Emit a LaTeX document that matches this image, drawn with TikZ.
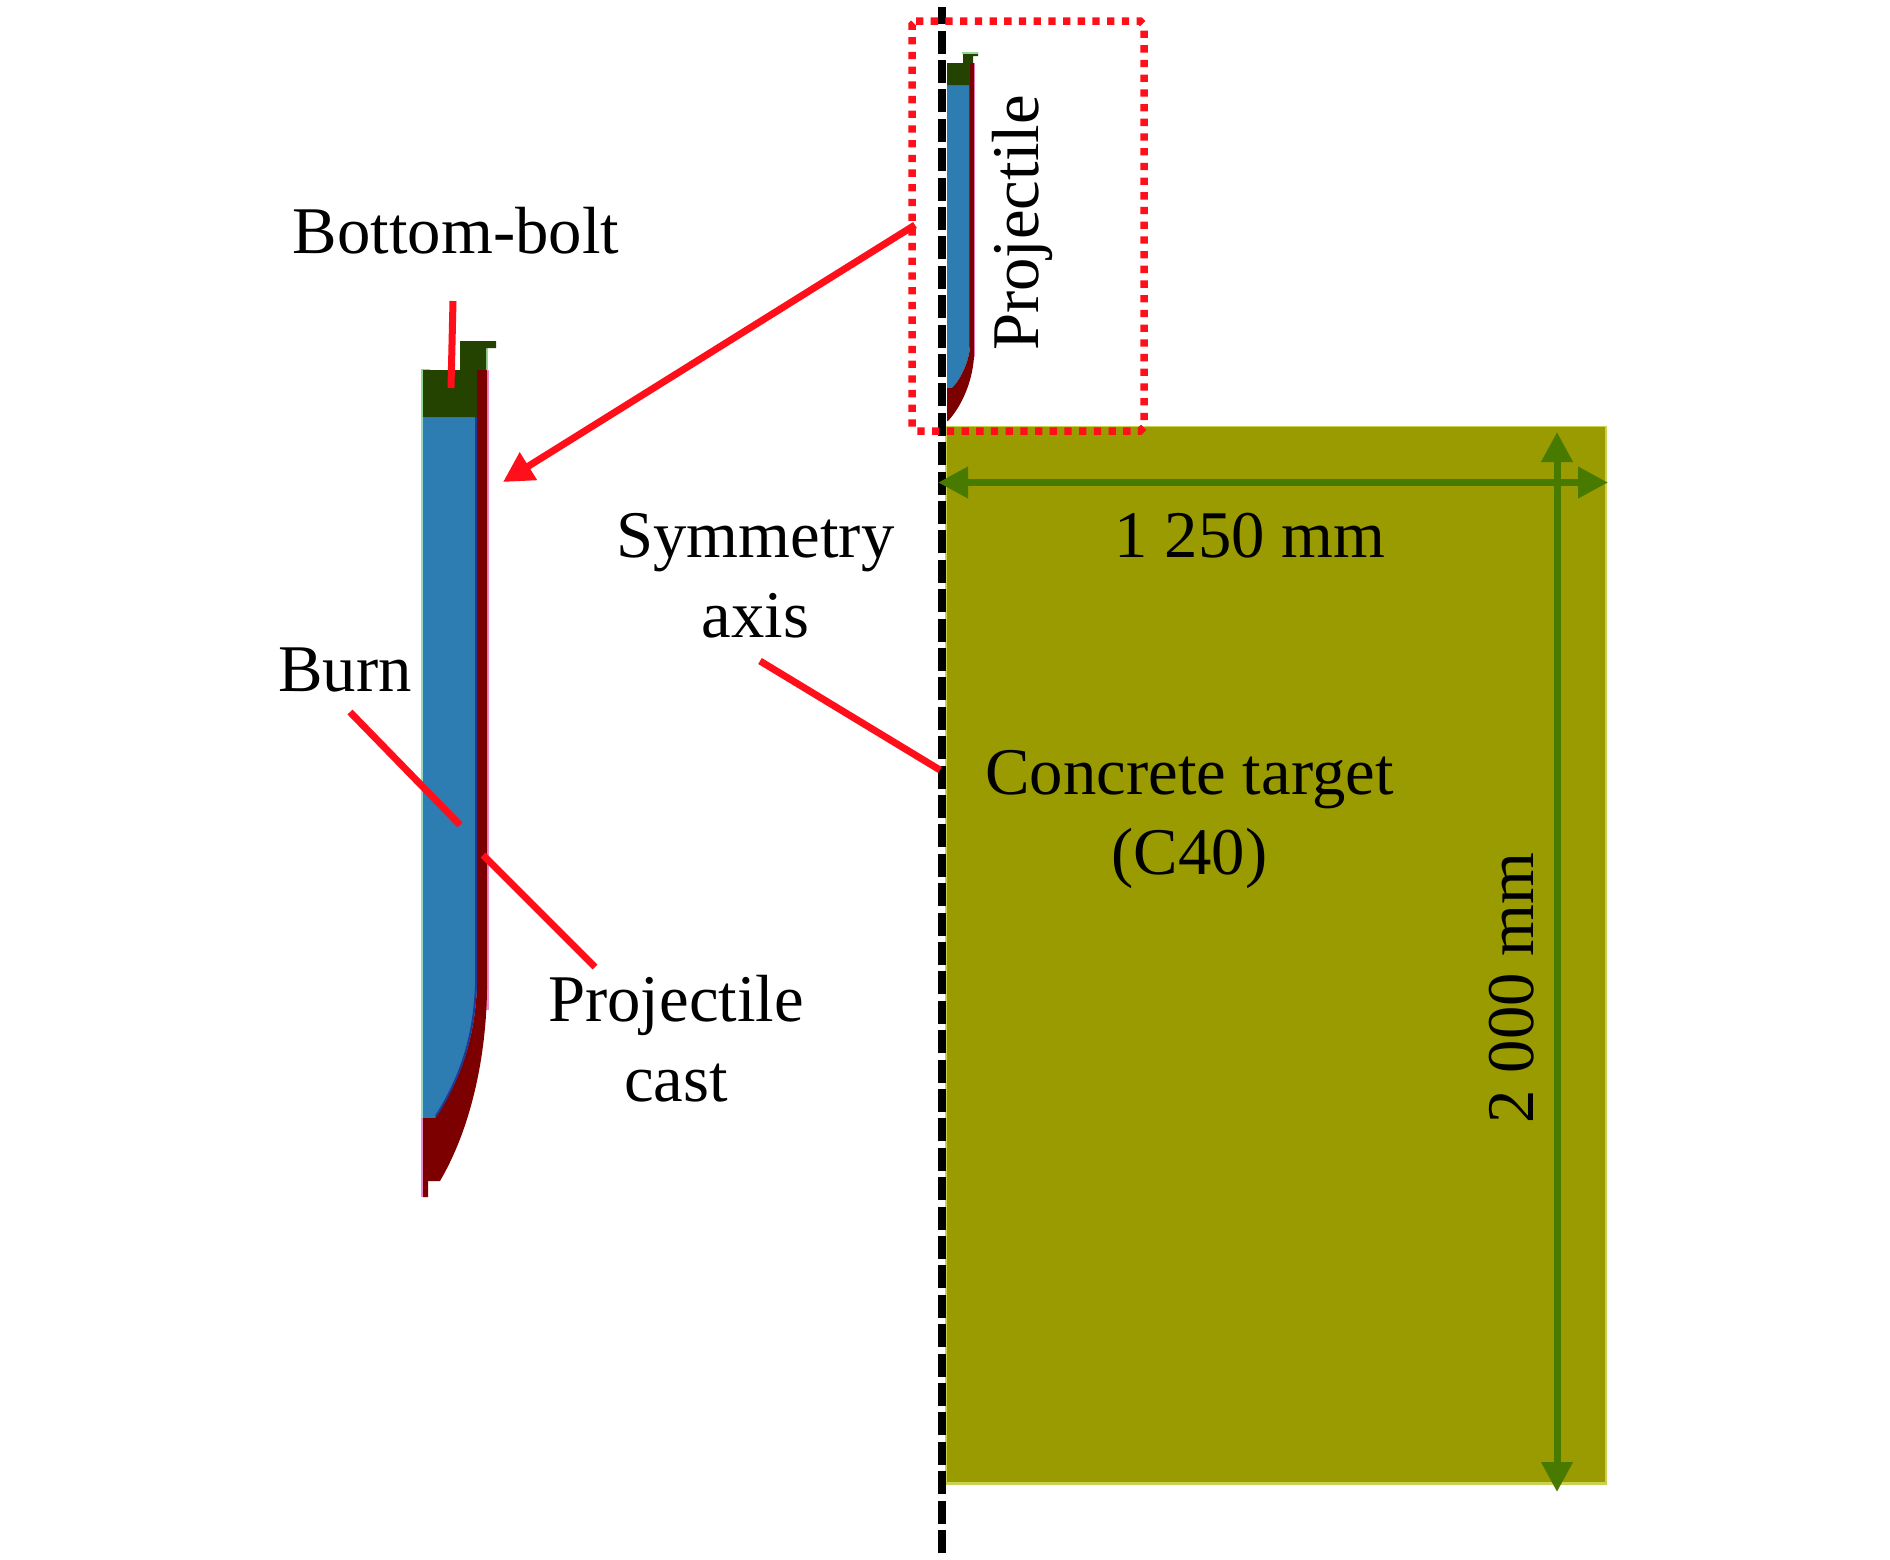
\documentclass[tikz,border=0pt]{standalone}
\usepackage{fontspec}
\setmainfont{Liberation Serif}
\usetikzlibrary{arrows.meta}
\definecolor{olivefill}{RGB}{153,155,0}
\definecolor{oliveedge}{RGB}{200,210,80}
\definecolor{dimgreen}{RGB}{72,122,0}
\definecolor{boltgreen}{RGB}{36,66,0}
\definecolor{boltedge}{RGB}{150,215,150}
\definecolor{burnblue}{RGB}{46,125,178}
\definecolor{burnedge}{RGB}{150,215,200}
\definecolor{stripblue}{RGB}{30,60,150}
\definecolor{castred}{RGB}{125,0,0}
\definecolor{castedge}{RGB}{235,140,210}
\definecolor{leader}{RGB}{255,15,25}
\tikzset{
  x=1pt,y=-1pt,
  lab/.style={font=\fontsize{66.7}{80}\selectfont,inner sep=0pt,align=center,text=black},
  leaderline/.style={draw=leader,line width=7pt},
  dim/.style={draw=dimgreen,line width=7pt,{Triangle[length=30pt,width=30pt,inset=0pt]}-{Triangle[length=30pt,width=30pt,inset=0pt]}},
}
\begin{document}
\begin{tikzpicture}
\useasboundingbox (0,0) rectangle (1890,1559);
\fill[white] (0,0) rectangle (1890,1559);
% target
\fill[oliveedge] (945,426) rectangle (1607,1485);
\node[fill=olivefill,inner sep=0pt,minimum width=658pt,minimum height=1055pt,anchor=north west] (target) at (947,427) {};
% big projectile
\fill[burnedge] (421,417) rectangle (430,1118);
\fill[burnblue] (423,417) -- (477,417) -- (477,985) .. controls (475,1040) and (460,1080) .. (435,1118) -- (423,1118) -- cycle;
\fill[castedge] (484,370) rectangle (489,1010);
\fill[castred] (477,370) -- (487,370) -- (487,990) .. controls (486,1060) and (470,1130) .. (440,1181) -- (428,1181) -- (428,1197) -- (423,1197) -- (423,1118) -- (435,1118) .. controls (460,1080) and (475,1040) .. (477,985) -- cycle;
\draw[stripblue,line width=2pt] (476,417) -- (476,985) .. controls (474,1040) and (459,1080) .. (436,1116);
\draw[castedge,line width=1.5pt] (422,1118) -- (422,1197);
\fill[boltedge] (421,369) rectangle (430,417);
\fill[boltedge] (484,346) rectangle (488,371);
\fill[boltgreen] (423,370) -- (460,370) -- (460,341) -- (496,341) -- (496,348) -- (486,348) -- (486,370) -- (477,370) -- (477,417) -- (423,417) -- cycle;
\fill[castred] (477,370) rectangle (487,417);
% small projectile
\fill[burnblue] (947,85) -- (970,85) -- (970,347) .. controls (969,360) and (962,378) .. (952,388) -- (947,388) -- cycle;
\draw[stripblue,line width=1.2pt] (970,85) -- (970,347);
\fill[castedge] (973,63) rectangle (975,357);
\fill[castred] (970,63) -- (974,63) -- (974,357) .. controls (972,385) and (960,408) .. (948,421) -- (947,421) -- (947,388) -- (952,388) .. controls (962,378) and (969,360) .. (970,347) -- cycle;
\fill[boltgreen] (947,63) -- (963,63) -- (963,52) -- (978,52) -- (978,56) -- (973,56) -- (973,63) -- (970,63) -- (970,85) -- (947,85) -- cycle;
\draw[boltedge,line width=1.2pt] (962,53) -- (978,53);
% axis
\coordinate (axB) at (942,1553);
\coordinate (axT) at (942,7);
\draw[black,line width=7.5pt,dash pattern=on 23pt off 6.4pt] (axB) -- (axT);
% dotted frame
\draw[leader,line width=7.5pt,dash pattern=on 7.3pt off 7.4pt] (916,21) -- (1140,21) -- (1144,25) -- (1144,427) -- (1140,431) -- (916,431) -- (912,427) -- (912,25) -- cycle;
% dimensions
\coordinate (dL) at (938,482.5);
\coordinate (dR) at (1608,482.5);
\coordinate (dT) at (1557,432);
\coordinate (dB) at (1557,1492);
\draw[dim] (dL) -- (dR);
\draw[dim] (dT) -- (dB);
% labels
\node[lab,anchor=base] (bolt) at (456,253) {Bottom-bolt};
\node[lab,anchor=base] (burn) at (345,691) {Burn};
\node[lab,anchor=base] (sym) at (755.5,637) {Symmetry\\[0pt]axis};
\node[lab,anchor=base] (d1) at (1250,557) {1 250 mm};
\node[lab,anchor=base] (conc) at (1189.5,874) {Concrete target\\[0pt](C40)};
\node[lab,anchor=base] (cast) at (676,1101) {Projectile\\[0pt]cast};
\node[lab,rotate=90] (proj) at (1022,223) {Projectile};
\node[lab,rotate=90] (d2) at (1512,988) {2 000 mm};
% leaders
\coordinate (a1) at (453,301); \coordinate (a2) at (451,388);
\draw[leaderline] (a1) -- (a2);
\coordinate (b1) at (350,712); \coordinate (b2) at (460,825);
\draw[leaderline] (b1) -- (b2);
\coordinate (c1) at (483,855); \coordinate (c2) at (595,967);
\draw[leaderline] (c1) -- (c2);
\coordinate (s1) at (760,661); \coordinate (s2) at (940,770);
\draw[leaderline] (s1) -- (s2);
\coordinate (p1) at (915,225); \coordinate (p2) at (503,482);
\draw[leaderline,-{Triangle[length=30pt,width=31pt,inset=0pt]}] (p1) -- (p2);
\end{tikzpicture}
\end{document}
